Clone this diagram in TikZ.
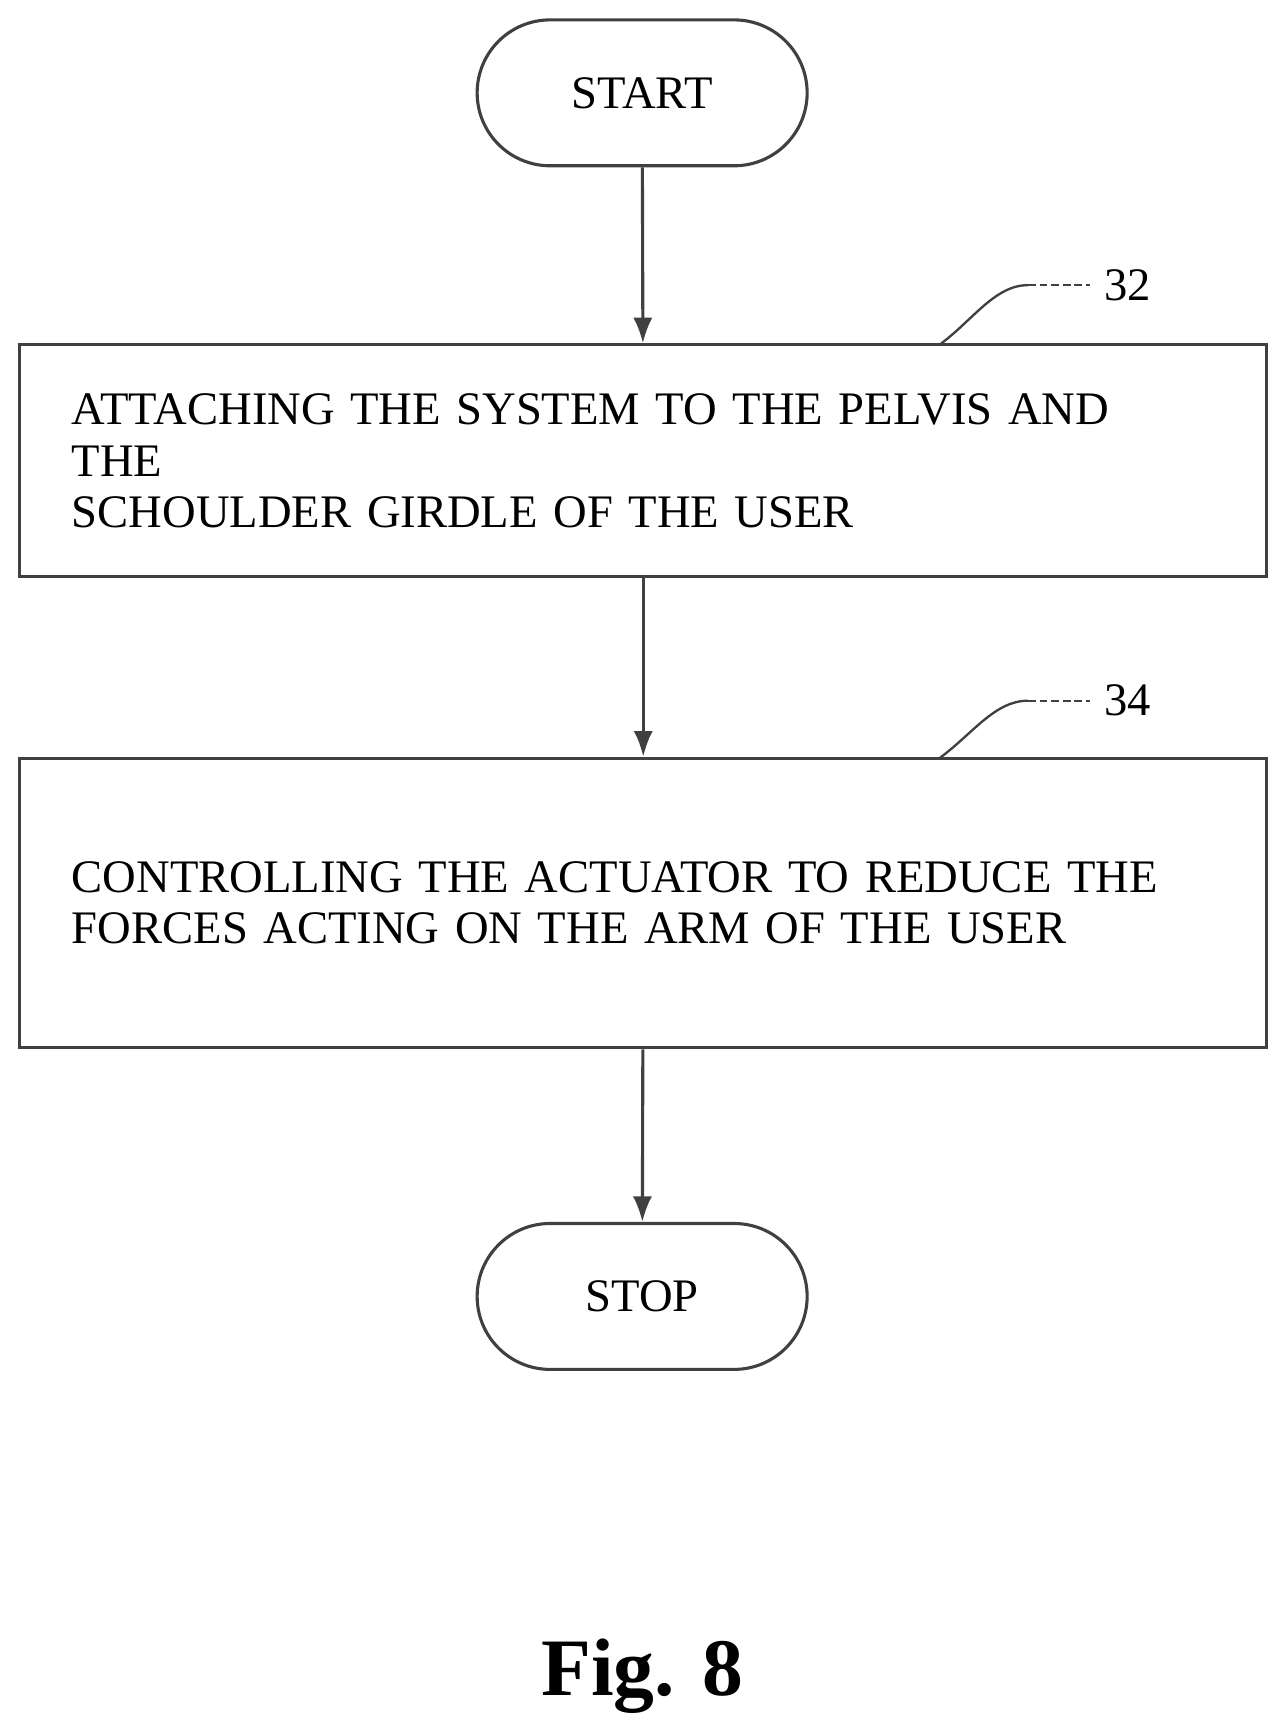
\documentclass[tikz,border=0pt]{standalone}
\usepackage{fontspec}
\setmainfont{Liberation Serif}
\usetikzlibrary{positioning, arrows.meta, shapes.misc}

\begin{document}
\begin{tikzpicture}[
    % GLOBAL CFG
    font=\fontsize{12}{13.2}\selectfont,
    >=Latex,
    % Styles
    terminal/.style={% For start and stop
        rounded rectangle,
        draw=black!75,
        thick,
        minimum width=3.22cm,
        minimum height=1.32cm,
        },
    stepbox/.style={% For the process boxes
        rectangle,
        draw=black!75,
        thick,
        minimum width=11.28cm,
        text width=10.34cm,
        align=left,
        },
    flow/.style={% Arrows between the steps
        ->,
        thick,
        draw=black!75,
        },
    leader/.style={% Reference numeral leaders
        draw=black!75,
        semithick,
        },
    ]
    \useasboundingbox (0,0) rectangle (11.64,-15.68);

%Start drawing the thing...
    \node [terminal] (start) at (5.81,-0.84) {START};
    \node [stepbox, minimum height=2.10cm] (attach) at (5.82,-4.17)
        {ATTACHING THE SYSTEM TO THE PELVIS AND THE\\SCHOULDER GIRDLE OF THE USER};
    \node [stepbox, minimum height=2.62cm] (control) at (5.82,-8.17)
        {CONTROLLING THE ACTUATOR TO REDUCE THE\\FORCES ACTING ON THE ARM OF THE USER\\[1.1em]};
    \node [terminal] (stop) at (5.81,-11.73) {STOP};

    % Reference numerals
    \node (n32) at (10.20,-2.58) {32};
    \node (n34) at (10.20,-6.34) {34};
    \coordinate (l32a) at (8.50,-3.12);
    \coordinate (l32b) at (9.30,-2.58);
    \coordinate (l34a) at (8.50,-6.86);
    \coordinate (l34b) at (9.30,-6.34);

    % Caption
    \node [font=\fontsize{21}{23}\selectfont\bfseries] (caption) at (5.81,-15.17) {Fig. 8};

% Start connecting all.
    \draw [flow] (start) -- (attach);
    \draw [flow] (attach) -- (control);
    \draw [flow] (control) -- (stop);

    % Leaders
    \draw [leader] (l32a) .. controls (8.8,-2.9) and (9.0,-2.58) .. (l32b);
    \draw [leader, dash pattern=on 2pt off 1pt] (l32b) -- (n32.west);
    \draw [leader] (l34a) .. controls (8.8,-6.64) and (9.0,-6.34) .. (l34b);
    \draw [leader, dash pattern=on 2pt off 1pt] (l34b) -- (n34.west);

\end{tikzpicture}
\end{document}
